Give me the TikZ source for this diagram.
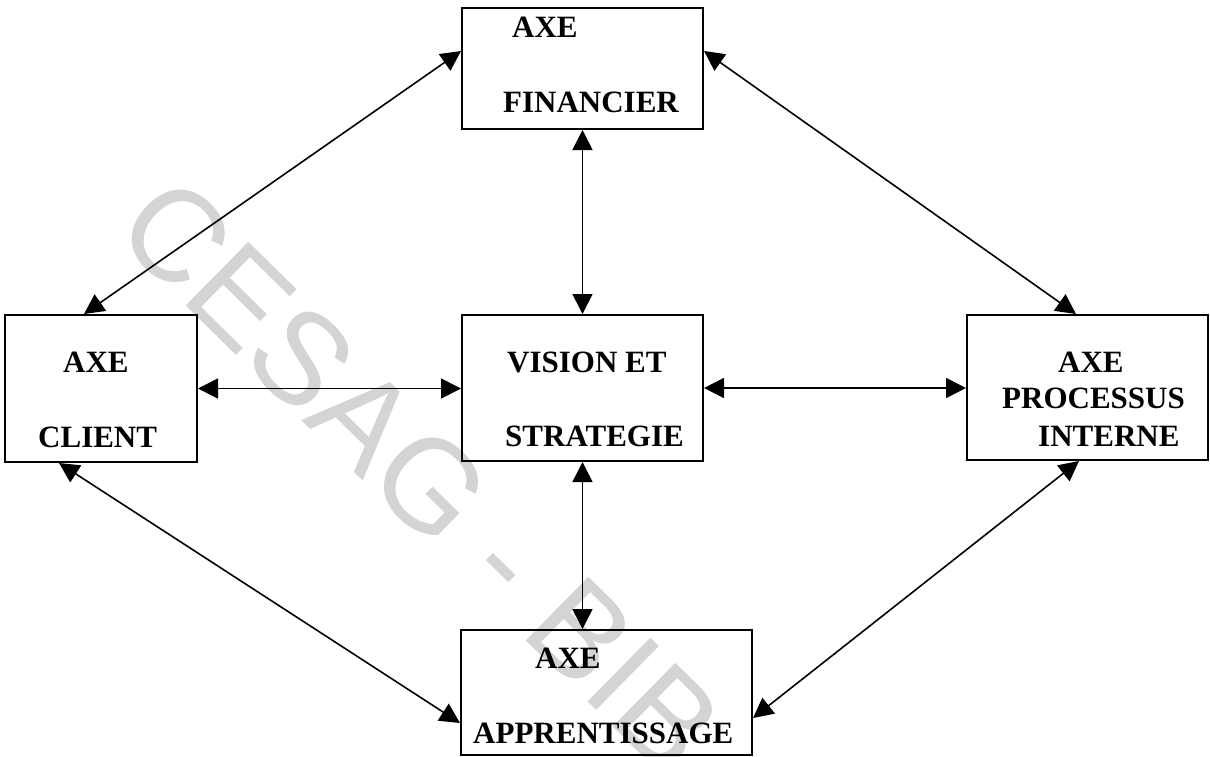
\documentclass[tikz,border=0pt]{standalone}
\usepackage{fontspec}
\setmainfont{Liberation Serif}
\newfontfamily\wmfont{Liberation Sans}
\usetikzlibrary{arrows.meta}
\definecolor{wmgray}{RGB}{212,212,212}
\tikzset{
  boxnode/.style={draw=black, line width=2pt, rectangle, inner sep=0pt},
  lbl/.style={anchor=base west, inner sep=0pt, font=\fontsize{31}{31}\selectfont\bfseries},
  link/.style={line width=1.6pt, {Triangle[length=20pt,width=20pt]}-{Triangle[length=20pt,width=20pt]}}
}
\begin{document}
\begin{tikzpicture}[x=1pt,y=-1pt]
\useasboundingbox (0,0) rectangle (1210,756);
\begin{scope}
\clip (0,0) rectangle (1210,756);
\node[anchor=base west, inner sep=0pt, rotate=-44.5, text=wmgray, font=\fontsize{130}{130}\wmfont] (wm) at (111,233) {CESAG - BIB};
\end{scope}
% boxes
\node[boxnode, minimum width=241pt, minimum height=121pt] (fin) at (582.5,68.5) {};
\node[boxnode, minimum width=192pt, minimum height=147pt] (cli) at (101,388.5) {};
\node[boxnode, minimum width=241pt, minimum height=146pt] (vis) at (582.5,388) {};
\node[boxnode, minimum width=241pt, minimum height=145pt] (pro) at (1087.5,387.5) {};
\node[boxnode, minimum width=291pt, minimum height=125pt] (app) at (606.5,692.5) {};
% labels
\node[lbl] (f1) at (512,37) {AXE};
\node[lbl] (f2) at (503,112) {FINANCIER};
\node[lbl] (c1) at (63,372) {AXE};
\node[lbl] (c2) at (38,447) {CLIENT};
\node[lbl] (v1) at (507,372) {VISION ET};
\node[lbl] (v2) at (505,446) {STRATEGIE};
\node[lbl] (p1) at (1058,372) {AXE};
\node[lbl] (p2) at (1002,408) {PROCESSUS};
\node[lbl] (p3) at (1038,446) {INTERNE};
\node[lbl] (a1) at (535,668) {AXE};
\node[lbl] (a2) at (473,743) {APPRENTISSAGE};
% connectors
\draw[link] (fin.south) -- (vis.north);
\draw[link] (vis.south) -- (vis.south |- app.north);
\draw[link] (cli.east) -- (cli.east -| vis.west);
\draw[link] (vis.east) -- (vis.east -| pro.west);
\draw[link] ([xshift=80pt]cli.north west) -- ([yshift=-44pt]fin.north west);
\draw[link] ([yshift=-44pt]fin.north east) -- ([xshift=110pt]pro.north west);
\draw[link] ([xshift=55pt]cli.south west) -- ([yshift=-94pt]app.north west);
\draw[link] ([xshift=113pt]pro.south west) -- ([yshift=-89pt]app.north east);
\end{tikzpicture}
\end{document}
